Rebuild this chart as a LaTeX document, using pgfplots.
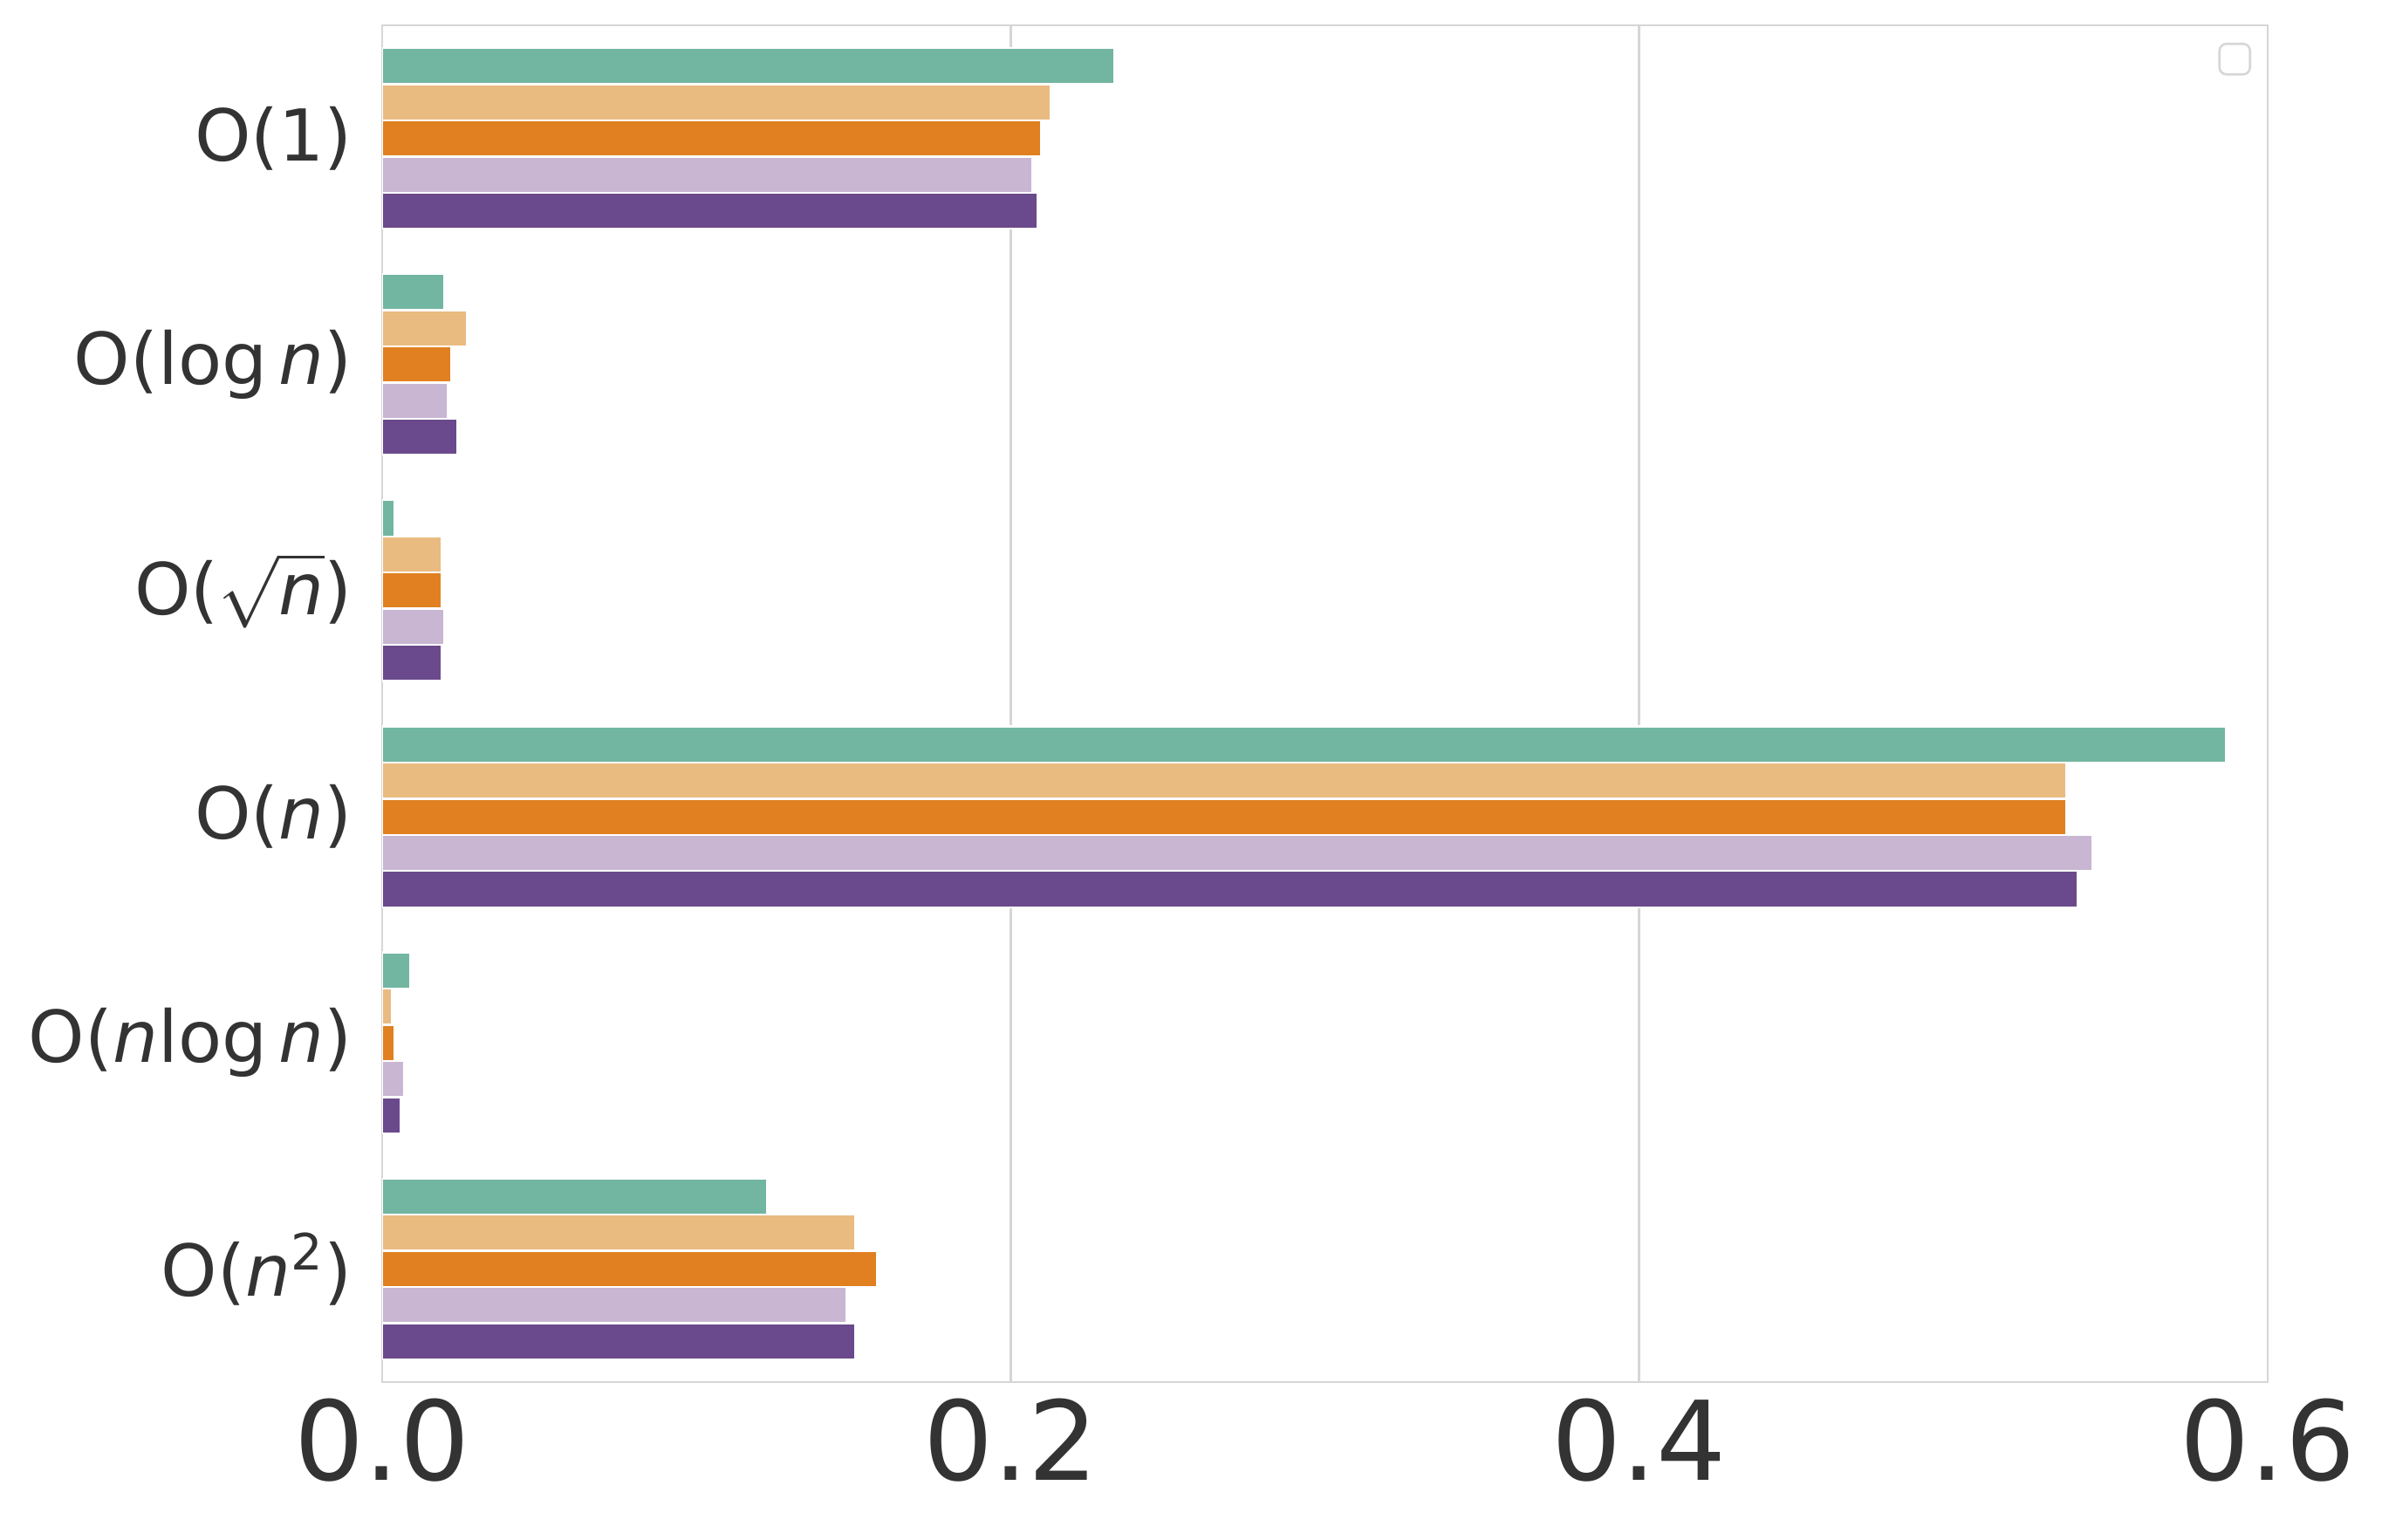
\documentclass[border=0pt]{standalone}
\usepackage{fontspec}
\setmainfont{DejaVu Sans}
\usepackage{pgfplots}
\pgfplotsset{compat=1.18}
\definecolor{cA}{RGB}{114,182,161}
\definecolor{cB}{RGB}{233,187,128}
\definecolor{cC}{RGB}{224,128,32}
\definecolor{cD}{RGB}{200,182,210}
\definecolor{cE}{RGB}{106,74,140}
\definecolor{gridgray}{RGB}{214,214,214}
\definecolor{textgray}{RGB}{51,51,51}
\begin{document}
\begin{tikzpicture}
\begin{axis}[name=ax, scale only axis, width=540.25pt, height=388.75pt,
  xbar, xmin=0, xmax=0.6, ymin=-0.5, ymax=5.5, y dir=reverse,
  bar width=0.16,
  ytick={0,1,2,3,4,5},
  yticklabels={{O(1)},{O(log\,\textit{n})},{O($\sqrt{\mbox{\textit{n}}}$)},{O(\textit{n})},{O(\textit{n}log\,\textit{n})},{O(\textit{n}\textsuperscript{2})}},
  xtick={0,0.2,0.4,0.6},
  /pgf/number format/assume math mode=true,
  /pgf/number format/fixed, /pgf/number format/fixed zerofill, /pgf/number format/precision=1,
  xticklabel style={font=\fontsize{31.5}{32}\selectfont, text=textgray, yshift=-1.25pt},
  yticklabel style={font=\fontsize{20.5}{24}\selectfont, text=textgray, xshift=-5pt},
  xmajorgrids, ymajorgrids=false,
  grid style={gridgray, line width=0.65pt},
  axis line style={gridgray, line width=0.65pt},
  major tick length=0pt,
  every axis plot/.append style={draw=white, line width=0.6pt},
]
\addplot[fill=cA, bar shift=-0.32] coordinates {(0.233,0) (0.0199,1) (0.0040,2) (0.5867,3) (0.0089,4) (0.1225,5)};
\addplot[fill=cB, bar shift=-0.16] coordinates {(0.2126,0) (0.0269,1) (0.0190,2) (0.5360,3) (0.0030,4) (0.1506,5)};
\addplot[fill=cC, bar shift=0] coordinates {(0.2097,0) (0.0220,1) (0.0190,2) (0.5360,3) (0.0040,4) (0.1574,5)};
\addplot[fill=cD, bar shift=0.16] coordinates {(0.2068,0) (0.0210,1) (0.0199,2) (0.5443,3) (0.0069,4) (0.1477,5)};
\addplot[fill=cE, bar shift=0.32] coordinates {(0.2087,0) (0.0240,1) (0.0190,2) (0.5395,3) (0.0059,4) (0.1506,5)};
\end{axis}
\node[draw=gridgray, line width=0.65pt, rounded corners=2pt, minimum size=8.75pt, inner sep=0pt, anchor=north east] at ([shift={(-4.75pt,-5pt)}]ax.north east) {};
\pgfresetboundingbox
\path ([shift={(-109.5pt,-45.25pt)}]ax.south west) rectangle ([shift={(32.75pt,7.25pt)}]ax.north east);
\end{tikzpicture}
\end{document}
